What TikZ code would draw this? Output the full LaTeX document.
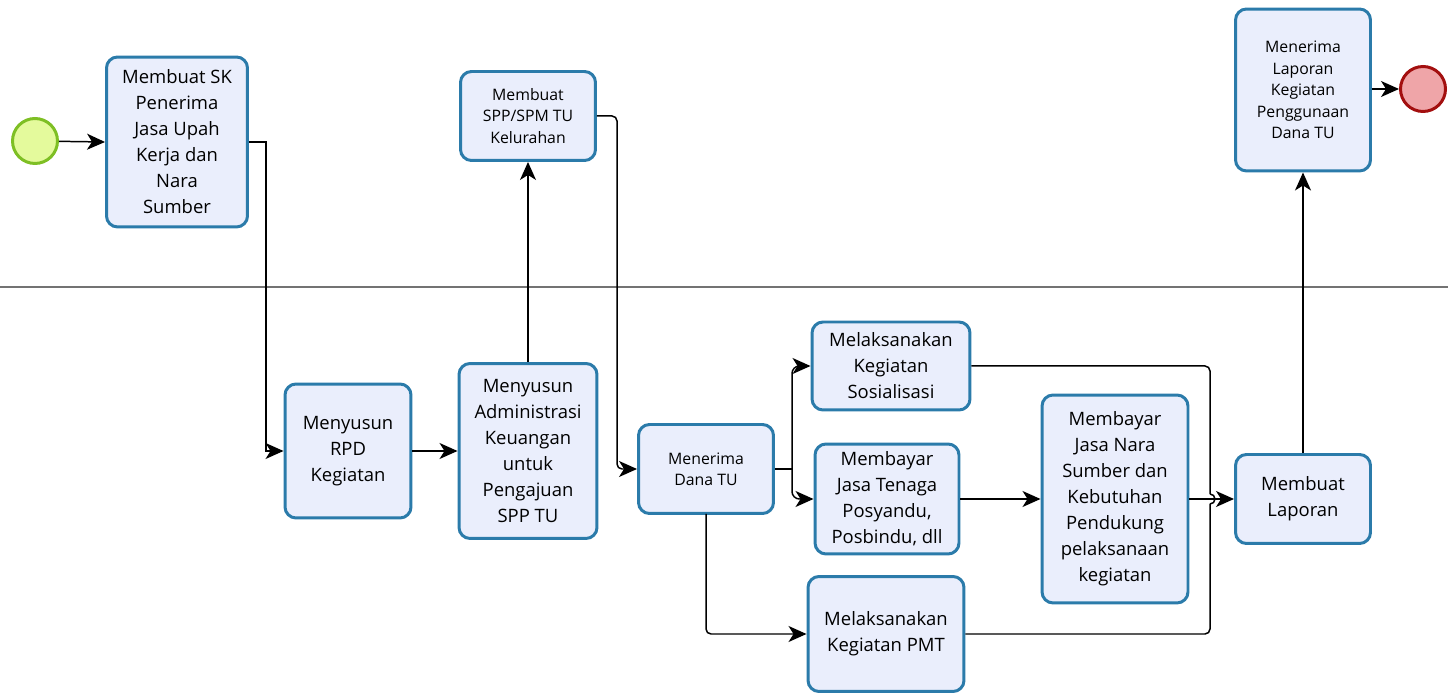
\documentclass[tikz,border=0pt]{standalone}
\usepackage{fontspec}
\setmainfont{Open Sans}
\usetikzlibrary{arrows.meta}

\definecolor{taskline}{HTML}{2B7BAA}
\definecolor{taskfill}{HTML}{EAEEFC}
\definecolor{startfill}{HTML}{E4FA9C}
\definecolor{startline}{HTML}{7EBF24}
\definecolor{endfill}{HTML}{EFA5A8}
\definecolor{endline}{HTML}{A30F0F}

\tikzset{
    task/.style={draw=taskline, fill=taskfill, line width=1.7pt, rounded corners=0.22cm,
        align=center, inner sep=1pt, font=\fontsize{10.5}{14.8}\selectfont},
    smalltask/.style={task, font=\fontsize{9}{12.2}\selectfont},
    flow/.style={line width=0.85pt, -{Stealth[length=0.36cm, width=0.32cm, inset=0.1cm]}},
    plainflow/.style={line width=0.85pt},
}

\begin{document}
\begin{tikzpicture}[x=0.02cm, y=-0.02cm]
    \useasboundingbox (0,0) rectangle (1448,695);

    % lane divider
    \draw[black!55, line width=0.6pt] (0,287) -- (1448,287);

    % events
    \node[draw=startline, fill=startfill, circle, line width=1.7pt, minimum size=0.9cm] (start) at (35,141) {};
    \node[draw=endline, fill=endfill, circle, line width=1.7pt, minimum size=0.9cm] (end) at (1423,89) {};

    % upper lane
    \node[task, minimum width=2.82cm, minimum height=3.40cm] (sk) at (177,142) {Membuat SK\\Penerima\\Jasa Upah\\Kerja dan\\Nara\\Sumber};
    \node[smalltask, minimum width=2.70cm, minimum height=1.78cm] (spp) at (528,116) {Membuat\\SPP/SPM TU\\Kelurahan};
    \node[smalltask, minimum width=2.70cm, minimum height=3.24cm] (terimalap) at (1303,90) {Menerima\\Laporan\\Kegiatan\\Penggunaan\\Dana TU};

    % lower lane
    \node[task, minimum width=2.52cm, minimum height=2.68cm] (rpd) at (348,451) {Menyusun\\RPD\\Kegiatan};
    \node[task, minimum width=2.76cm, minimum height=3.50cm] (admin) at (528,451) {Menyusun\\Administrasi\\Keuangan\\untuk\\Pengajuan\\SPP TU};
    \node[smalltask, minimum width=2.70cm, minimum height=1.78cm] (dana) at (706,469) {Menerima\\Dana TU};
    \node[task, minimum width=3.16cm, minimum height=1.76cm] (sosial) at (891,366) {Melaksanakan\\Kegiatan\\Sosialisasi};
    \node[task, minimum width=2.88cm, minimum height=2.20cm] (posyandu) at (887,499) {Membayar\\Jasa Tenaga\\Posyandu,\\Posbindu, dll};
    \node[task, minimum width=3.12cm, minimum height=2.30cm] (pmt) at (886,634) {Melaksanakan\\Kegiatan PMT};
    \node[task, minimum width=2.92cm, minimum height=4.16cm] (narasumber) at (1115,499) {Membayar\\Jasa Nara\\Sumber dan\\Kebutuhan\\Pendukung\\pelaksanaan\\kegiatan};
    \node[task, minimum width=2.70cm, minimum height=1.78cm] (laporan) at (1303,499) {Membuat\\Laporan};

    % connectors
    \draw[flow] (start) -- (sk.west);
    \draw[flow] (sk.east) -- (266,142) -- (266,451) -- (rpd.west);
    \draw[flow] (rpd.east) -- (admin.west);
    \draw[flow] (admin.north) -- (spp.south);
    \draw[flow, rounded corners=0.1cm] (spp.east) -- (617,116) -- (617,469) -- (dana.west);
    \draw[plainflow] (dana.east) -- (792,469);
    \draw[flow, rounded corners=0.15cm] (792,469) -- (792,366) -- (sosial.west);
    \draw[flow, rounded corners=0.15cm] (792,469) -- (792,499) -- (posyandu.west);
    \draw[flow, rounded corners=0.1cm] (706,514) -- (706,634) -- (pmt.west);
    \draw[flow] (posyandu.east) -- (narasumber.west |- posyandu.east);
    \draw[plainflow, rounded corners=0.1cm] (sosial.east) -- (1210,366) -- (1210,494);
    \draw[plainflow] (1210,494) arc[start angle=90, end angle=-90, radius=0.1cm];
    \draw[plainflow, rounded corners=0.1cm] (pmt.east) -- (1210,634) -- (1210,504);
    \draw[flow] (narasumber.east) -- (laporan.west);
    \draw[flow] (laporan.north) -- (terimalap.south);
    \draw[flow] (terimalap.east |- end) -- (end.west);
\end{tikzpicture}
\end{document}
